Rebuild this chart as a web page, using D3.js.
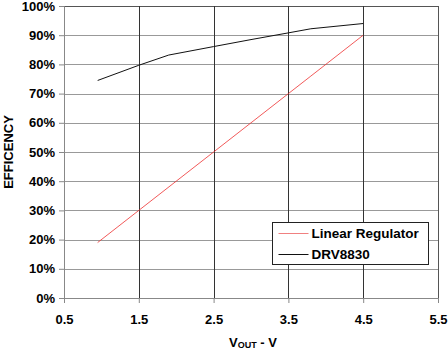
<!DOCTYPE html>
<html>
<head>
<meta charset="utf-8">
<script src="https://cdn.jsdelivr.net/npm/d3@7"></script>
<style>
  body { margin: 0; background: #fff; }
  text { font-family: "Liberation Sans", Arial, sans-serif; font-weight: bold; fill: #000; }
</style>
</head>
<body>
<div id="chart"></div>
<script>
// Linear regulator efficiency vs Vout
const linearX = [0.95, 1.5, 2.0, 2.5, 3.0, 3.5, 3.8, 4.5];
const linearY = [0.19, 0.30, 0.40, 0.50, 0.60, 0.70, 0.76, 0.90];

// DRV8830 efficiency vs Vout
const drvX = [0.95, 1.5, 1.9, 2.5, 3.0, 3.5, 3.8, 4.5];
const drvY = [0.745, 0.797, 0.832, 0.861, 0.885, 0.908, 0.922, 0.94];

const xTicks = [0.5, 1.5, 2.5, 3.5, 4.5, 5.5];
const yTicks = [0, 0.1, 0.2, 0.3, 0.4, 0.5, 0.6, 0.7, 0.8, 0.9, 1.0];

const margin = { top: 6, right: 10, bottom: 54, left: 64 };
const width = 448 - margin.left - margin.right;
const height = 352 - margin.top - margin.bottom;

const svg = d3
  .select('#chart')
  .append('svg')
  .attr('width', 448)
  .attr('height', 352);

const g = svg.append('g').attr('transform', 'translate(' + margin.left + ',' + margin.top + ')');

const x = d3.scaleLinear().domain([0.5, 5.5]).range([0, width]);
const y = d3.scaleLinear().domain([0, 1]).range([height, 0]);

// horizontal grid
g.append('g')
  .selectAll('line')
  .data(yTicks.slice(1))
  .join('line')
  .attr('x1', 0)
  .attr('x2', width)
  .attr('y1', (d) => Math.round(y(d)) + 0.5)
  .attr('y2', (d) => Math.round(y(d)) + 0.5)
  .attr('stroke', (d) => (d === 1 ? '#555' : '#999'))
  .attr('stroke-width', 1.2);

// vertical grid
g.append('g')
  .selectAll('line')
  .data(xTicks.slice(1))
  .join('line')
  .attr('x1', (d) => Math.round(x(d)) + 0.5)
  .attr('x2', (d) => Math.round(x(d)) + 0.5)
  .attr('y1', 0)
  .attr('y2', height)
  .attr('stroke', (d) => (d === 5.5 ? '#555' : '#333'))
  .attr('stroke-width', 1);

// axes
const xAxis = d3.axisBottom(x).tickValues(xTicks).tickFormat(d3.format('.1f')).tickSize(5).tickPadding(12);
const yAxis = d3.axisLeft(y).tickValues(yTicks).tickFormat(d3.format('.0%')).tickSize(5).tickPadding(4);

const gx = g.append('g').attr('transform', 'translate(0,' + height + ')').call(xAxis);
const gy = g.append('g').call(yAxis);

[gx, gy].forEach((a) => {
  a.select('.domain').attr('stroke', '#888');
  a.selectAll('.tick line').attr('stroke', '#888');
  a.selectAll('.tick text').style('font-size', '13px').style('font-weight', 'bold').attr('fill', '#000');
});

// lines
const line = d3
  .line()
  .x((d) => x(d[0]))
  .y((d) => y(d[1]));

g.append('path')
  .datum(d3.zip(linearX, linearY))
  .attr('fill', 'none')
  .attr('stroke', '#ee3030')
  .attr('stroke-width', 0.8)
  .attr('d', line);

g.append('path')
  .datum(d3.zip(drvX, drvY))
  .attr('fill', 'none')
  .attr('stroke', '#111')
  .attr('stroke-width', 1)
  .attr('d', line);

// legend
const legend = svg.append('g').attr('transform', 'translate(272.5,222.5)');
legend.append('rect').attr('width', 156).attr('height', 42).attr('fill', '#fff').attr('stroke', '#222');
const items = [
  { name: 'Linear Regulator', color: '#f08080' },
  { name: 'DRV8830', color: '#111' }
];
items.forEach((it, i) => {
  const yy = 11 + i * 21;
  legend.append('line').attr('x1', 6).attr('x2', 36).attr('y1', yy).attr('y2', yy).attr('stroke', it.color);
  legend.append('text').attr('x', 39).attr('y', yy + 4.5).style('font-size', '13.5px').text(it.name);
});

// axis titles
svg.append('text')
  .attr('transform', 'translate(13,' + (margin.top + height / 2) + ') rotate(-90)')
  .attr('text-anchor', 'middle')
  .style('font-size', '13px')
  .text('EFFICENCY');

const xt = svg.append('text')
  .attr('x', 253)
  .attr('y', 347)
  .attr('text-anchor', 'middle')
  .style('font-size', '13px');
xt.append('tspan').text('V');
xt.append('tspan').style('font-size', '9px').attr('dy', 1).text('OUT');
xt.append('tspan').attr('dy', -1).text(' - V');
</script>
</body>
</html>
